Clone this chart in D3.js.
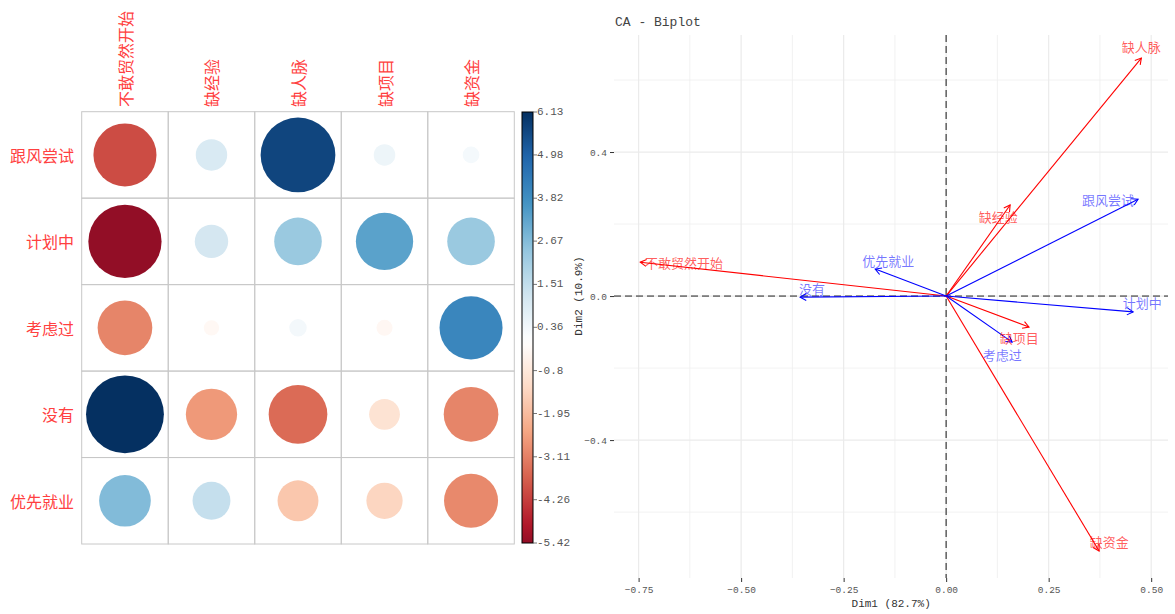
<!DOCTYPE html>
<html><head><meta charset="utf-8">
<script src="https://cdn.jsdelivr.net/npm/d3@7"></script>
<style>body{margin:0;background:#fff} svg{display:block}</style>
</head><body><svg id="c" width="1175" height="614"></svg>
<script>
// ---------- corrplot data (chi-square residuals) ----------
const rowNames = ["跟风尝试","计划中","考虑过","没有","优先就业"];
const colNames = ["不敢贸然开始","缺经验","缺人脉","缺项目","缺资金"];
const residuals = [
  [-4.02,  1.00,  5.65,  0.47,  0.28],
  [-5.42,  1.13,  2.29,  3.32,  2.29],
  [-3.02, -0.24,  0.31, -0.26,  4.02],
  [ 6.13, -2.66, -3.48, -0.96, -3.02],
  [ 2.70,  1.45, -1.69, -1.33, -2.95]
];
const colorbarTicks = [6.13, 4.98, 3.82, 2.67, 1.51, 0.36, -0.8, -1.95, -3.11, -4.26, -5.42];
const palette = ["#67001F","#B2182B","#D6604D","#F4A582","#FDDBC7","#FFFFFF","#D1E5F0","#92C5DE","#4393C3","#2166AC","#053061"];

// ---------- CA biplot data ----------
const rowPoints = ["跟风尝试","计划中","考虑过","没有","优先就业"];
const rowDim1 = [0.468, 0.456, 0.161, -0.356, -0.173];
const rowDim2 = [0.269, -0.044, -0.128, -0.003, 0.075];
const rowLabDim1 = [0.395, 0.478, 0.137, -0.327, -0.141];
const rowLabDim2 = [0.267, -0.017, -0.162, 0.022, 0.100];
const colPoints = ["不敢贸然开始","缺经验","缺人脉","缺项目","缺资金"];
const colDim1 = [-0.746, 0.156, 0.476, 0.202, 0.373];
const colDim2 = [0.094, 0.253, 0.661, -0.086, -0.708];
const colLabDim1 = [-0.639, 0.127, 0.476, 0.178, 0.398];
const colLabDim2 = [0.092, 0.222, 0.692, -0.114, -0.683];
const xMajor = [-0.75, -0.5, -0.25, 0, 0.25, 0.5];
const xMinor = [-0.625, -0.375, -0.125, 0.125, 0.375];
const yMajor = [-0.4, 0, 0.4];
const yMinor = [-0.6, -0.2, 0.2, 0.6];

const svg = d3.select("#c");
const cjk = "'Noto Sans CJK SC', sans-serif";
const mono = "'Liberation Mono', monospace";

// ================= LEFT: corrplot =================
const gx = d3.scaleBand().domain(colNames).range([81.7, 514.3]);
const gy = d3.scaleBand().domain(rowNames).range([111.7, 544]);
const vmax = d3.max(residuals.flat(), d => Math.abs(d));
const colorScale = d3.scaleLinear()
  .domain(d3.range(palette.length).map(i => -vmax + i * 2 * vmax / (palette.length - 1)))
  .range(palette).interpolate(d3.interpolateRgb);
const rScale = d3.scaleSqrt().domain([0, vmax]).range([0, 0.45 * gx.bandwidth()]);

const left = svg.append("g");
rowNames.forEach((rn, i) => {
  colNames.forEach((cn, j) => {
    left.append("rect").attr("x", gx(cn)).attr("y", gy(rn))
      .attr("width", gx.bandwidth()).attr("height", gy.bandwidth())
      .attr("fill", "none").attr("stroke", "#c8c8c8").attr("stroke-width", 1);
  });
});
rowNames.forEach((rn, i) => {
  colNames.forEach((cn, j) => {
    const v = residuals[i][j];
    left.append("circle")
      .attr("cx", gx(cn) + gx.bandwidth() / 2)
      .attr("cy", gy(rn) + gy.bandwidth() / 2)
      .attr("r", rScale(Math.abs(v)))
      .attr("fill", colorScale(v));
  });
});
// row labels
left.selectAll(".rl").data(rowNames).join("text")
  .attr("x", 74).attr("y", d => gy(d) + gy.bandwidth() / 2)
  .attr("text-anchor", "end").attr("dominant-baseline", "central")
  .attr("font-family", cjk).attr("font-size", 16).attr("fill", "#ff4040")
  .text(d => d);
// column labels
left.selectAll(".cl").data(colNames).join("text")
  .attr("transform", d => `translate(${gx(d) + gx.bandwidth() / 2},107) rotate(-90)`)
  .attr("text-anchor", "start").attr("dominant-baseline", "central")
  .attr("font-family", cjk).attr("font-size", 16).attr("fill", "#ff4040")
  .text(d => d);

// colorbar
const cbMin = d3.min(colorbarTicks), cbMax = d3.max(colorbarTicks);
const cbY = d3.scaleLinear().domain([cbMin, cbMax]).range([543, 112]);
const defs = svg.append("defs");
const grad = defs.append("linearGradient").attr("id", "cbg")
  .attr("x1", 0).attr("y1", 1).attr("x2", 0).attr("y2", 0);
d3.range(0, 1.0001, 0.02).forEach(t => {
  grad.append("stop").attr("offset", t).attr("stop-color", colorScale(cbMin + t * (cbMax - cbMin)));
});
left.append("rect").attr("x", 522).attr("y", cbY(cbMax)).attr("width", 11)
  .attr("height", cbY(cbMin) - cbY(cbMax)).attr("fill", "url(#cbg)")
  .attr("stroke", "#000").attr("stroke-width", 1);
colorbarTicks.forEach(t => {
  left.append("line").attr("x1", 533).attr("x2", 537).attr("y1", cbY(t)).attr("y2", cbY(t))
    .attr("stroke", "#555").attr("stroke-width", 0.8);
  left.append("text").attr("x", 537).attr("y", cbY(t)).attr("dominant-baseline", "central")
    .attr("font-family", mono).attr("font-size", 11).attr("fill", "#555")
    .text(String(t));
});

// ================= RIGHT: CA biplot =================
const px = d3.scaleLinear().domain([-0.81, 0.541]).range([614, 1168]);
const py = d3.scaleLinear().domain([-0.783, 0.725]).range([578, 35]);
const right = svg.append("g");
const grid = right.append("g");
xMinor.forEach(v => grid.append("line").attr("x1", px(v)).attr("x2", px(v)).attr("y1", 35).attr("y2", 578).attr("stroke", "#efefef").attr("stroke-width", 0.8));
yMinor.forEach(v => grid.append("line").attr("y1", py(v)).attr("y2", py(v)).attr("x1", 614).attr("x2", 1168).attr("stroke", "#efefef").attr("stroke-width", 0.8));
xMajor.forEach(v => grid.append("line").attr("x1", px(v)).attr("x2", px(v)).attr("y1", 35).attr("y2", 578).attr("stroke", "#ebebeb").attr("stroke-width", 1.2));
yMajor.forEach(v => grid.append("line").attr("y1", py(v)).attr("y2", py(v)).attr("x1", 614).attr("x2", 1168).attr("stroke", "#ebebeb").attr("stroke-width", 1.2));

// axes
const xAxis = d3.axisBottom(px).tickValues(xMajor).tickSize(4).tickPadding(4).tickFormat(d3.format(".2f"));
const gX = right.append("g").attr("transform", "translate(0,578)").call(xAxis);
gX.select(".domain").remove();
gX.selectAll("line").attr("stroke", "#333");
gX.selectAll("text").attr("font-family", mono).attr("font-size", 9.5).attr("fill", "#555");
const yAxis = d3.axisLeft(py).tickValues(yMajor).tickSize(4).tickPadding(3).tickFormat(d3.format(".1f"));
const gY = right.append("g").attr("transform", "translate(614,0)").call(yAxis);
gY.select(".domain").remove();
gY.selectAll("line").attr("stroke", "#333");
gY.selectAll("text").attr("font-family", mono).attr("font-size", 9.5).attr("fill", "#555");

// reference lines
right.append("line").attr("x1", 614).attr("x2", 1168).attr("y1", py(0)).attr("y2", py(0))
  .attr("stroke", "#222").attr("stroke-width", 1).attr("stroke-dasharray", "7,4");
right.append("line").attr("x1", px(0)).attr("x2", px(0)).attr("y1", 35).attr("y2", 578)
  .attr("stroke", "#555").attr("stroke-width", 1.4).attr("stroke-dasharray", "7,4");

// arrows
function arrow(g, x, y, color) {
  const x0 = px(0), y0 = py(0), x1 = px(x), y1 = py(y);
  const a = Math.atan2(y1 - y0, x1 - x0), L = 7, h = Math.PI / 6;
  g.append("line").attr("x1", x0).attr("y1", y0).attr("x2", x1).attr("y2", y1)
    .attr("stroke", color).attr("stroke-width", 1.1);
  g.append("path")
    .attr("d", `M${x1 - L * Math.cos(a - h)},${y1 - L * Math.sin(a - h)}L${x1},${y1}L${x1 - L * Math.cos(a + h)},${y1 - L * Math.sin(a + h)}`)
    .attr("fill", "none").attr("stroke", color).attr("stroke-width", 1.1);
}
colPoints.forEach((n, i) => arrow(right, colDim1[i], colDim2[i], "#ff0000"));
rowPoints.forEach((n, i) => arrow(right, rowDim1[i], rowDim2[i], "#0000ff"));
colPoints.forEach((n, i) => right.append("text").attr("x", px(colLabDim1[i])).attr("y", py(colLabDim2[i]))
  .attr("text-anchor", "middle").attr("dominant-baseline", "central")
  .attr("font-family", cjk).attr("font-size", 13).attr("fill", "#ff0000").attr("fill-opacity", 0.65).text(n));
rowPoints.forEach((n, i) => right.append("text").attr("x", px(rowLabDim1[i])).attr("y", py(rowLabDim2[i]))
  .attr("text-anchor", "middle").attr("dominant-baseline", "central")
  .attr("font-family", cjk).attr("font-size", 13).attr("fill", "#0000ff").attr("fill-opacity", 0.55).text(n));

// titles
right.append("text").attr("x", 615).attr("y", 26).attr("font-family", mono).attr("font-size", 13)
  .attr("fill", "#444").text("CA - Biplot");
right.append("text").attr("x", px(0) - 55).attr("y", 607).attr("text-anchor", "middle")
  .attr("font-family", mono).attr("font-size", 11).attr("fill", "#333").text("Dim1 (82.7%)");
right.append("text").attr("transform", `translate(582,${py(0)}) rotate(-90)`).attr("text-anchor", "middle")
  .attr("font-family", mono).attr("font-size", 11).attr("fill", "#333").text("Dim2 (10.9%)");
</script></body></html>
